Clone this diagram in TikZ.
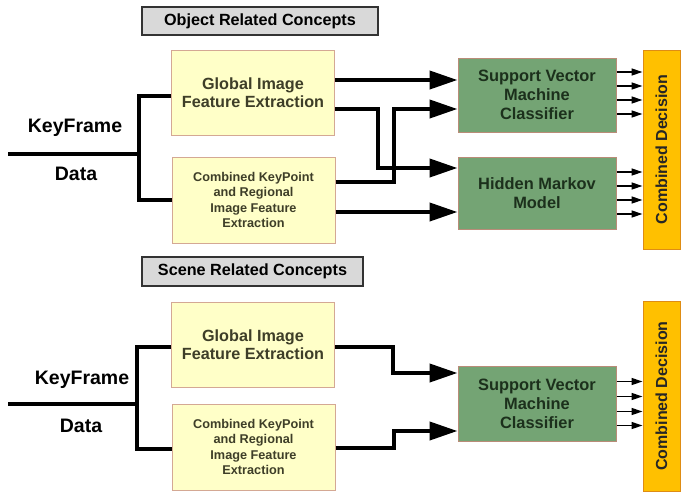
\documentclass[tikz,border=0pt]{standalone}
\usepackage{fontspec}
\setmainfont{Liberation Sans}
\usepackage{tikz}
\usetikzlibrary{arrows.meta, positioning, calc}
\definecolor{titlegray}{RGB}{217, 217, 217}
\definecolor{featyellow}{RGB}{255, 255, 200}
\definecolor{featedge}{RGB}{212, 168, 148}
\definecolor{classgreen}{RGB}{116, 164, 116}
\definecolor{classedge}{RGB}{185, 140, 120}
\definecolor{decorange}{RGB}{255, 192, 0}
\definecolor{decedge}{RGB}{222, 140, 20}
\definecolor{feattext}{RGB}{62, 62, 40}
\definecolor{classtext}{RGB}{28, 48, 28}

\begin{document}
\begin{tikzpicture}[
  x=1pt, y=-1pt,
  titlebox/.style={draw=black!80, fill=titlegray, line width=1.2pt, inner sep=0pt, font=\bfseries\fontsize{16.2}{18}\selectfont},
  featbox/.style={draw=featedge, fill=featyellow, line width=1pt, minimum width=163pt, minimum height=85pt, inner sep=0pt, align=center, text=feattext, font=\bfseries\fontsize{16.2}{18.5}\selectfont},
  smallfeat/.style={featbox, font=\bfseries\fontsize{12.7}{15.5}\selectfont},
  classbox/.style={draw=classedge, fill=classgreen, line width=1pt, minimum width=158pt, inner sep=0pt, align=center, text=classtext, font=\bfseries\fontsize{16.4}{19}\selectfont},
  decbox/.style={draw=decedge, fill=decorange, line width=1pt, minimum width=37pt, inner sep=0pt},
  keylabel/.style={font=\bfseries\fontsize{19.5}{21}\selectfont},
  thickline/.style={line width=4pt, line join=miter},
  bigarrow/.style={thickline, -{Triangle[length=28pt, width=18pt]}},
  smallarrow/.style={line width=1.4pt, -{Triangle[length=11pt, width=7pt]}}
]
  \useasboundingbox (0, 0) rectangle (681, 491);

  % object related concepts
  \node[titlebox, minimum width=236pt, minimum height=28pt] (objtitle) at (260, 21) {Object Related Concepts};
  \node[featbox] (glob1) at (253, 92.5) {Global Image\\Feature Extraction};
  \node[smallfeat, minimum height=86pt] (comb1) at (253.5, 200) {Combined KeyPoint\\and Regional\\Image Feature\\Extraction};
  \node[classbox, minimum height=74pt] (svm1) at (537, 95) {Support Vector\\Machine\\Classifier};
  \node[classbox, minimum height=72pt] (hmm1) at (537, 193) {Hidden Markov\\Model};
  \node[decbox, minimum height=199pt, label={[rotate=90, font=\bfseries\fontsize{16}{18}\selectfont, text=black!85]center:Combined Decision}] (dec1) at (661.5, 149.5) {};
  \node[keylabel] (kf1) at (75, 128) {KeyFrame};
  \node[keylabel] (data1) at (76, 174) {Data};

  \coordinate (in1) at (8, 154);
  \coordinate (sp1) at (139, 154);
  \draw[thickline] (in1) -- (sp1);
  \draw[thickline] ([yshift=-3.5pt]glob1.west) -| (sp1) |- (comb1.west);

  \coordinate (g1a) at ([yshift=12.5pt]glob1.east);
  \coordinate (g1b) at ([yshift=-16.5pt]glob1.east);
  \coordinate (c1a) at ([yshift=18pt]comb1.east);
  \coordinate (c1b) at ([yshift=-12pt]comb1.east);
  \coordinate (s1a) at ([yshift=15pt]svm1.west);
  \coordinate (s1b) at ([yshift=-14pt]svm1.west);
  \coordinate (h1a) at ([yshift=25pt]hmm1.west);
  \coordinate (h1b) at ([yshift=-19pt]hmm1.west);
  \draw[bigarrow] (g1a) -- (s1a);
  \draw[bigarrow] (g1b) -- ++(43, 0) |- (h1a);
  \draw[bigarrow] (c1a) -- ++(58, 0) |- (s1b);
  \draw[bigarrow] (c1b) -- (h1b);

  \foreach \dy in {23, 9, -5, -19}
    \draw[smallarrow] ([yshift=\dy pt]svm1.east) -- ([yshift=\dy pt]svm1.east -| dec1.west);
  \foreach \dy in {21, 7, -7, -21}
    \draw[smallarrow] ([yshift=\dy pt]hmm1.east) -- ([yshift=\dy pt]hmm1.east -| dec1.west);

  % scene related concepts
  \node[titlebox, minimum width=221pt, minimum height=29pt] (scntitle) at (252.5, 271.5) {Scene Related Concepts};
  \node[featbox] (glob2) at (253, 344.5) {Global Image\\Feature Extraction};
  \node[smallfeat, minimum height=86pt] (comb2) at (253.5, 447) {Combined KeyPoint\\and Regional\\Image Feature\\Extraction};
  \node[classbox, minimum height=75pt] (svm2) at (537, 403.5) {Support Vector\\Machine\\Classifier};
  \node[decbox, minimum height=190pt, label={[rotate=90, font=\bfseries\fontsize{16}{18}\selectfont, text=black!85]center:Combined Decision}] (dec2) at (661.5, 396) {};
  \node[keylabel] (kf2) at (82, 380) {KeyFrame};
  \node[keylabel] (data2) at (81, 426) {Data};

  \coordinate (in2) at (8, 404);
  \coordinate (sp2) at (137, 404);
  \draw[thickline] (in2) -- (sp2);
  \draw[thickline] ([yshift=-2.5pt]glob2.west) -| (sp2) |- ([yshift=-1.5pt]comb2.west);

  \coordinate (s2a) at ([yshift=30.5pt]svm2.west);
  \coordinate (s2b) at ([yshift=-27.5pt]svm2.west);
  \draw[bigarrow] ([yshift=-2.5pt]glob2.east) -- ++(58, 0) |- (s2a);
  \draw[bigarrow] ([yshift=-1pt]comb2.east) -- ++(58, 0) |- (s2b);

  \foreach \dy in {22, 7, -8, -22}
    \draw[smallarrow] ([yshift=\dy pt]svm2.east) -- ([yshift=\dy pt]svm2.east -| dec2.west);
\end{tikzpicture}
\end{document}
